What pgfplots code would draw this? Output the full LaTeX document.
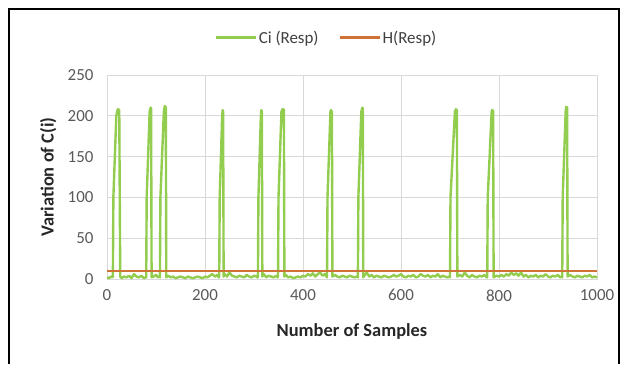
\documentclass[border=0pt]{standalone}
\usepackage{pgfplots}
\pgfplotsset{compat=1.18}
\usepackage{fontspec}
\setmainfont{Carlito}
\definecolor{cgreen}{RGB}{146,205,80}
\definecolor{corange}{RGB}{206,114,54}
\definecolor{tickgray}{RGB}{89,89,89}
\definecolor{gridgray}{RGB}{217,217,217}
\begin{document}
\begin{tikzpicture}[x=1bp,y=1bp]
\path[use as bounding box] (0,0) rectangle (624,364);
\draw[black, line width=1.5bp] (9,0) -- (9,355) -- (619,355) -- (619,0);
\begin{axis}[
  at={(107bp,85bp)}, anchor=south west,
  scale only axis, width=490bp, height=204bp,
  xmin=0, xmax=1000, ymin=0, ymax=250,
  xtick={0,200,...,1000}, ytick={0,50,...,250},
  grid=major, grid style={gridgray, line width=0.8bp},
  axis line style={gridgray, line width=0.8bp},
  tick style={draw=none},
  /pgf/number format/assume math mode=true,
  /pgf/number format/1000 sep={},
  ticklabel style={font=\fontsize{17}{19}\selectfont, text=tickgray},
  xticklabel shift=7bp, yticklabel shift=10bp,
  xlabel={Number of Samples}, ylabel={Variation of C(i)},
  label style={font=\fontsize{18.5}{20}\selectfont\bfseries, text=black!85},
  xlabel style={at={(axis description cs:0.5,-0.255)}, anchor=center},
  ylabel style={at={(axis description cs:-0.12,0.5)}, anchor=center},
  legend columns=2,
  legend style={at={(axis description cs:0.447,1.183)}, anchor=center, draw=none, fill=none,
    font=\fontsize{17}{19}\selectfont, text=black!75,
    nodes={inner sep=1.5bp},
    /tikz/every even column/.append style={column sep=18bp}},
  legend image code/.code={\draw[#1, line width=3bp] (0bp,0bp) -- (40bp,0bp);},
]
\addplot[cgreen, line width=2.4bp, line join=round] coordinates {
(0,2)(4,1)(8,3)(11,2)
(12,3)(13,100)(19,200)(22,208)(25,207)(27,3)
(30,1)(35,3)(40,2)(45,4)(50,1)(55,6)(60,3)(65,2)(70,4)(75,1)(79,2)
(80,2)(81,100)(87,205)(89,210)(90,209)(91,2)
(95,3)(100,5)(104,2)(107,3)
(108,2)(109,100)(116,205)(118,212)(120,210)(121,2)
(125,4)(130,2)(135,3)(140,1)(145,2)(150,3)(155,2)(160,1)(165,3)(170,2)(175,1)(180,2)(185,3)(190,2)(195,1)(200,3)(205,2)(210,4)(215,6)(220,3)(225,5)(228,2)
(229,3)(230,100)(235,200)(236,207)(237,205)(238,3)
(240,6)(245,3)(250,8)(255,4)(260,3)(265,2)(270,4)(275,3)(280,2)(285,5)(290,3)(295,2)(300,4)(305,3)(307,2)
(308,2)(309,100)(314,200)(315,207)(316,205)(317,3)
(320,6)(325,2)(330,4)(335,3)(340,2)(345,4)(348,2)
(349,3)(350,100)(356,205)(358,208)(360,208)(361,207)(362,3)
(365,5)(370,2)(375,3)(380,1)(385,2)(390,3)(395,2)(400,4)(405,3)(410,6)(415,4)(420,7)(425,3)(430,6)(435,8)(440,4)(445,6)(448,3)
(449,2)(450,100)(456,205)(457,207)(459,205)(460,3)
(465,5)(470,3)(475,2)(480,4)(485,3)(490,2)(495,4)(500,3)(505,2)(510,3)
(512,2)(513,100)(519,205)(521,210)(522,209)(523,2)
(525,4)(530,8)(535,3)(540,5)(545,2)(550,4)(555,3)(560,2)(565,4)(570,3)(575,2)(580,3)(585,5)(590,3)(595,4)(600,6)(605,3)(610,2)(615,4)(620,3)(625,5)(630,2)(635,3)(640,6)(645,4)(650,3)(655,5)(660,2)(665,4)(670,3)(675,6)(680,2)(685,4)(690,3)(695,2)(699,3)
(700,2)(701,100)(710,205)(712,208)(714,207)(715,3)
(720,5)(725,3)(730,8)(735,4)(740,2)(745,5)(750,3)(755,2)(760,4)(765,3)(770,5)(775,2)
(776,2)(777,100)(785,205)(786,207)(788,206)(789,2)
(795,4)(800,3)(805,5)(810,3)(815,6)(820,4)(825,8)(830,5)(835,7)(840,4)(845,8)(850,3)(855,5)(860,2)(865,4)(870,3)(875,5)(880,2)(885,4)(890,3)(895,6)(900,3)(905,2)(910,4)(915,3)(920,5)(925,2)(928,3)
(929,2)(930,100)(936,205)(937,211)(939,210)(940,3)
(945,5)(950,3)(955,2)(960,4)(965,3)(970,2)(975,4)(980,3)(985,5)(990,2)(995,3)(1000,2)
};
\addlegendentry{Ci (Resp)}
\addplot[corange, line width=2.2bp] coordinates {(0,10)(1000,10)};
\addlegendentry{H(Resp)}
\end{axis}
\end{tikzpicture}
\end{document}
